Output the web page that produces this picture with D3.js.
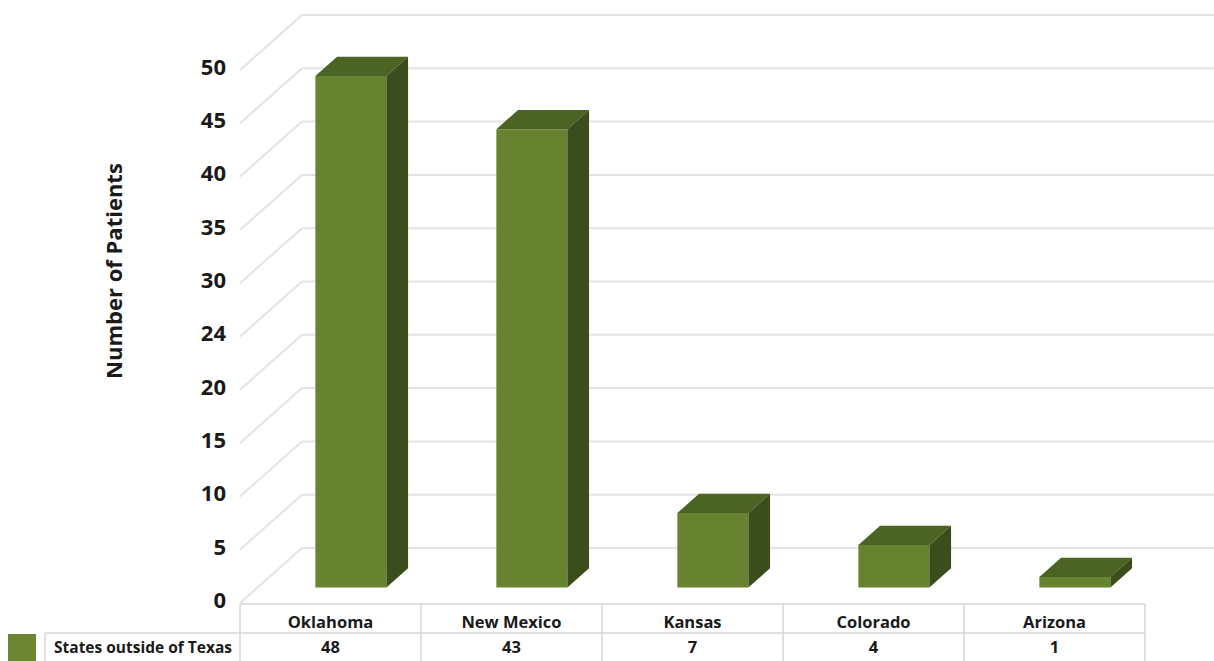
<!DOCTYPE html>
<html>
<head>
<meta charset="utf-8">
<script src="https://cdn.jsdelivr.net/npm/d3@7"></script>
<style>
  body { margin: 0; background: #fff; }
  text { font-family: "Open Sans", Lato, sans-serif; font-weight: 700; fill: #1a1a1a; }
</style>
</head>
<body>
<svg id="chart" width="1214" height="661"></svg>
<script>
// data
const categories = ["Oklahoma", "New Mexico", "Kansas", "Colorado", "Arizona"];
const patients = [48, 43, 7, 4, 1];
const tickValues = [0, 5, 10, 15, 20, 25, 30, 35, 40, 45, 50];
const tickLabels = ["0", "5", "10", "15", "20", "24", "30", "35", "40", "45", "50"];
const seriesName = "States outside of Texas";
const yTitle = "Number of Patients";

const svg = d3.select("#chart");
const W = 1214, H = 661;

// layout
const x = d3.scaleBand().domain(categories).range([240, 1145]);
const y = d3.scaleLinear().domain([0, 50]).range([0, 533]);
const Y0 = 603;      // front floor edge
const DX = 62, DY = 55; // full depth offset
const proj = (px, v, d) => [px + d * DX, Y0 - y(v) - d * DY];

const gridColor = "#e3e3e3";
const faceFront = "#68832f", faceTop = "#4b6424", faceSide = "#3b4d1c";

// grid: front-left diagonal + back wall line
const grid = svg.append("g");
tickValues.forEach(v => {
  const a = proj(240, v, 0), b = proj(240, v, 1);
  grid.append("line").attr("x1", a[0]).attr("y1", a[1]).attr("x2", b[0]).attr("y2", b[1])
    .attr("stroke", gridColor).attr("stroke-width", 2);
  grid.append("line").attr("x1", b[0]).attr("y1", b[1]).attr("x2", W).attr("y2", b[1])
    .attr("stroke", gridColor).attr("stroke-width", 2);
});

// tick labels
svg.append("g").selectAll("text").data(tickValues).join("text")
  .attr("x", 226)
  .attr("y", v => proj(240, v, 0)[1] - 1)
  .attr("text-anchor", "end")
  .attr("dominant-baseline", "middle")
  .style("font-size", "22px")
  .text((v, i) => tickLabels[i]);

// y title
svg.append("text")
  .attr("transform", "translate(122,271) rotate(-90)")
  .attr("text-anchor", "middle")
  .style("font-size", "22px")
  .text(yTitle);

// bars
const d1 = 0.28, d2 = 0.63, inset = 58, bw = 71;
const bars = svg.append("g").selectAll("g").data(categories).join("g");
bars.each(function (c, i) {
  const g = d3.select(this);
  const v = patients[i];
  const xl = x(c) + inset, xr = xl + bw;
  const fl0 = proj(xl, 0, d1), flt = proj(xl, v, d1), frt = proj(xr, v, d1), fr0 = proj(xr, 0, d1);
  const blt = proj(xl, v, d2), brt = proj(xr, v, d2), br0 = proj(xr, 0, d2);
  g.append("polygon").attr("points", [fl0, flt, frt, fr0].join(" ")).attr("fill", faceFront);
  g.append("polygon").attr("points", [flt, blt, brt, frt].join(" ")).attr("fill", faceTop);
  g.append("polygon").attr("points", [frt, brt, br0, fr0].join(" ")).attr("fill", faceSide);
});

// data table
const tb = svg.append("g");
const rowTop = 604, rowMid = 633, rowBot = 661;
const border = "#d6d6d6";
tb.append("line").attr("x1", 240).attr("x2", x.range()[1]).attr("y1", rowTop).attr("y2", rowTop)
  .attr("stroke", border).attr("stroke-width", 1.5);
tb.append("line").attr("x1", 45).attr("x2", x.range()[1]).attr("y1", rowMid).attr("y2", rowMid)
  .attr("stroke", border).attr("stroke-width", 1.5);
tb.append("line").attr("x1", 45).attr("x2", 45).attr("y1", rowMid).attr("y2", rowBot)
  .attr("stroke", border).attr("stroke-width", 1.5);
categories.concat([null]).forEach((c, i) => {
  const xx = c ? x(c) : x.range()[1];
  tb.append("line").attr("x1", xx).attr("x2", xx).attr("y1", rowTop).attr("y2", rowBot)
    .attr("stroke", border).attr("stroke-width", 1.5);
});
tb.selectAll("text.cat").data(categories).join("text").attr("class", "cat")
  .attr("x", c => x(c) + x.bandwidth() / 2).attr("y", 628)
  .attr("text-anchor", "middle").style("font-size", "16.5px").text(c => c);
tb.selectAll("text.val").data(patients).join("text").attr("class", "val")
  .attr("x", (v, i) => x(categories[i]) + x.bandwidth() / 2).attr("y", 653)
  .attr("text-anchor", "middle").style("font-size", "16.5px").text(v => v);

// legend key
tb.append("rect").attr("x", 8).attr("y", 634).attr("width", 28).attr("height", 27).attr("fill", "#6b8532");
tb.append("text").attr("x", 232).attr("y", 653).attr("text-anchor", "end")
  .style("font-size", "15.5px").text(seriesName);
</script>
</body>
</html>
